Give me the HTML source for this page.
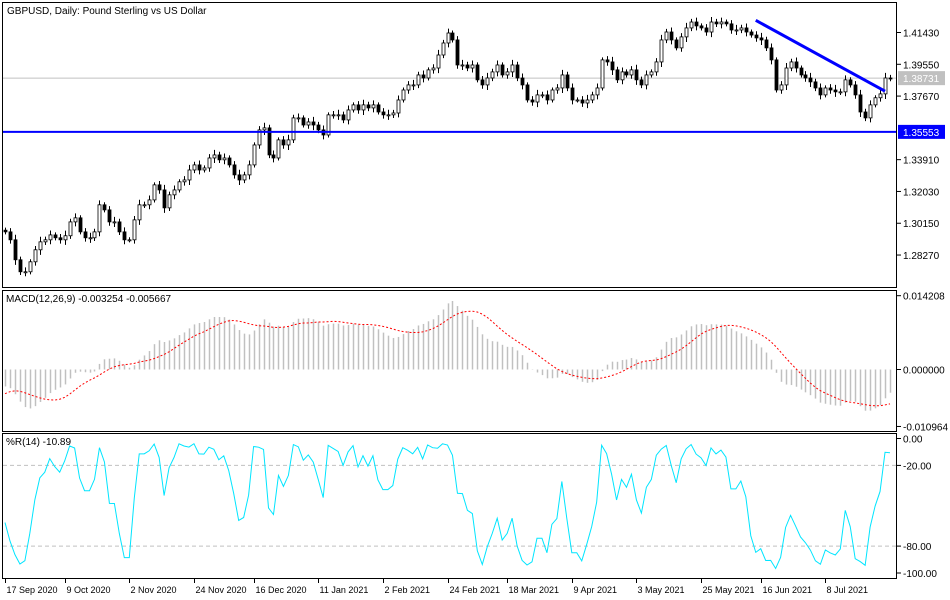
<!DOCTYPE html>
<html><head><meta charset="utf-8"><style>
html,body{margin:0;padding:0;background:#fff;}
svg{display:block;font-family:"Liberation Sans","DejaVu Sans",sans-serif;font-size:10px;}
.dl{font-size:9px;}
</style></head><body>
<svg id="chart" width="950" height="600" viewBox="0 0 950 600" xmlns="http://www.w3.org/2000/svg">
<rect x="0" y="0" width="950" height="600" fill="#fff"/>
<g id="price"></g>
<g id="macd"></g>
<g id="wpr"></g>
<g id="axes"></g>
</svg>
<script>
const closes=[1.2964,1.2917,1.2799,1.2728,1.2728,1.2787,1.2858,1.2905,1.2917,1.2946,1.2929,1.2917,1.2941,1.3023,1.3047,1.2964,1.2929,1.2929,1.2964,1.3124,1.3094,1.3023,1.3023,1.2964,1.2917,1.2917,1.3035,1.3124,1.3124,1.3153,1.3242,1.3212,1.3106,1.3183,1.3212,1.3260,1.3271,1.3330,1.3360,1.3330,1.3342,1.3401,1.3419,1.3390,1.3401,1.3360,1.3301,1.3271,1.3301,1.3360,1.3478,1.3567,1.3579,1.3419,1.3401,1.3508,1.3478,1.3508,1.3638,1.3638,1.3596,1.3614,1.3596,1.3567,1.3537,1.3656,1.3656,1.3656,1.3626,1.3685,1.3715,1.3685,1.3715,1.3697,1.3715,1.3673,1.3656,1.3656,1.3667,1.3744,1.3803,1.3833,1.3833,1.3892,1.3874,1.3922,1.3933,1.4010,1.4081,1.4140,1.4099,1.3951,1.3951,1.3933,1.3951,
1.3863,1.3833,1.3874,1.3910,1.3951,1.3892,1.3910,1.3951,1.3874,1.3833,1.3744,1.3732,1.3774,1.3774,1.3744,1.3803,1.3815,1.3892,1.3815,1.3744,1.3744,1.3726,1.3744,1.3774,1.3815,1.3981,1.3969,1.3922,1.3863,1.3910,1.3892,1.3922,1.3863,1.3833,1.3892,1.3910,1.3969,1.4099,1.4146,1.4099,1.4052,1.4117,1.4170,1.4205,1.4182,1.4170,1.4146,1.4205,1.4194,1.4205,1.4194,1.4158,1.4158,1.4170,1.4146,1.4128,1.4111,1.4099,1.4052,1.3981,1.3803,1.3833,1.3933,1.3969,1.3933,1.3892,1.3874,1.3851,1.3815,1.3774,1.3815,1.3803,1.3792,1.3792,1.3863,1.3833,1.3774,1.3673,1.3638,1.3715,1.3757,1.3780,1.3874,1.38731];
const preHistory=[1.3150,1.3200,1.3250,1.3300,1.3350,1.3300,1.3250,1.3150,1.3050,1.2950,1.2900,1.2850,1.2950,1.3000,1.2950,1.2900,1.2850,1.2900,1.2950,1.3000,1.3050,1.3020,1.2980,1.2990,1.3010,1.3000];
const priceTicks=[1.41430,1.39550,1.37670,1.33910,1.32030,1.30150,1.28270];
const supportLevel=1.35553;
const lastPrice=1.38731;
const trendLine=[[151,1.4215],[177,1.3796]];
const macdTicks=[0.014208,0,-0.010964];
const wprTicks=[0,-20,-80,-100];
const dateLabels=["17 Sep 2020","9 Oct 2020","2 Nov 2020","24 Nov 2020","16 Dec 2020","11 Jan 2021","2 Feb 2021","24 Feb 2021","18 Mar 2021","9 Apr 2021","3 May 2021","25 May 2021","16 Jun 2021","8 Jul 2021"];
const dateIdx=[0,12,25,38,50,63,76,89,101,114,127,140,152,165];

const NS="http://www.w3.org/2000/svg";
function mk(parent,tag,attrs,text){const e=document.createElementNS(NS,tag);for(const k in attrs)e.setAttribute(k,attrs[k]);if(text!==undefined)e.textContent=text;parent.appendChild(e);return e;}
const n=closes.length;
const X0=5,X1=890;
const xs=i=>X0+i*(X1-X0)/(n-1);
const yP=p=>32.5+(1.4143-p)*1691;
const yM=v=>369.5-v*5195;
const yW=v=>438.5-v*1.345;
const gP=document.getElementById('price'),gM=document.getElementById('macd'),gW=document.getElementById('wpr'),gA=document.getElementById('axes');

const opens=[],highs=[],lows=[];
for(let i=0;i<n;i++){const o=i?closes[i-1]:closes[0]+0.001;opens.push(o);const w=0.0015+0.0015*((i*7)%5)/4;highs.push(Math.max(o,closes[i])+w);lows.push(Math.min(o,closes[i])-w);}

let r=mk(gP,'rect',{x:2.5,y:2.5,width:894,height:285,fill:'none',stroke:'#000'});

r=mk(gM,'rect',{x:2.5,y:290.5,width:894,height:141,fill:'none',stroke:'#000'});

r=mk(gW,'rect',{x:2.5,y:433.5,width:894,height:145,fill:'none',stroke:'#000'});


let t=mk(gP,'text',{x:7,y:14,fill:'#000'},'GBPUSD, Daily:  Pound Sterling vs US Dollar');


let l=mk(gP,'line',{x1:3,x2:896,y1:yP(lastPrice),y2:yP(lastPrice),stroke:'#c0c0c0'});


for(let i=0;i<n;i++){
  const x=Math.round(xs(i))+0.5,o=opens[i],c=closes[i];
  const g=mk(gP,'g',{});
  
  mk(g,'line',{x1:x,x2:x,y1:yP(highs[i]),y2:yP(lows[i]),stroke:'#000'});
  const top=yP(Math.max(o,c)),bot=yP(Math.min(o,c));
  mk(g,'rect',{x:x-1.5,y:top,width:3,height:Math.max(1,bot-top),fill:c>=o?'#fff':'#000',stroke:'#000','stroke-width':0.8});
}
l=mk(gP,'line',{x1:3,x2:896,y1:yP(supportLevel),y2:yP(supportLevel),stroke:'#0000ff','stroke-width':2});

l=mk(gP,'line',{x1:xs(trendLine[0][0]),y1:yP(trendLine[0][1]),x2:xs(trendLine[1][0]),y2:yP(trendLine[1][1]),stroke:'#0000ff','stroke-width':3});


for(const p of priceTicks){const y=yP(p);mk(gA,'line',{x1:897,x2:901,y1:y,y2:y,stroke:'#000'});
  t=mk(gA,'text',{x:903,y:y+4,fill:'#000'},p.toFixed(5));}
let b=mk(gA,'rect',{x:898,y:yP(lastPrice)-7,width:47,height:14,fill:'#c0c0c0'});

t=mk(gA,'text',{x:903,y:yP(lastPrice)+4,fill:'#fff'},lastPrice.toFixed(5));
b=mk(gA,'rect',{x:898,y:yP(supportLevel)-7,width:47,height:14,fill:'#0000ff'});

t=mk(gA,'text',{x:903,y:yP(supportLevel)+4,fill:'#fff'},supportLevel.toFixed(5));

const all=preHistory.concat(closes);
function ema(a,p){const k=2/(p+1);let e=a[0];return a.map(v=>e=v*k+e*(1-k));}
const e12=ema(all,12),e26=ema(all,26);
const macdAll=all.map((v,i)=>e12[i]-e26[i]);
const sigAll=macdAll.map((v,i)=>{const s=macdAll.slice(Math.max(0,i-8),i+1);return s.reduce((a,b)=>a+b,0)/s.length;});
const off=preHistory.length;
const macd=macdAll.slice(off),signal=sigAll.slice(off);
for(let i=0;i<n;i++){const x=Math.round(xs(i))+0.5;
  l=mk(gM,'line',{x1:x,x2:x,y1:yM(0),y2:yM(macd[i]),stroke:'#c0c0c0','stroke-width':1.5});
  }
let pl=mk(gM,'polyline',{points:signal.map((v,i)=>xs(i)+','+yM(v)).join(' '),fill:'none',stroke:'#ff0000','stroke-dasharray':'2,2'});

t=mk(gM,'text',{x:6,y:302,fill:'#000'},'MACD(12,26,9) -0.003254 -0.005667');
for(const v of macdTicks){const y=yM(v);mk(gA,'line',{x1:897,x2:901,y1:y,y2:y,stroke:'#000'});
  t=mk(gA,'text',{x:903,y:y+4,fill:'#000'},v.toFixed(6));}

const wpr=[];
for(let i=0;i<n;i++){const s=Math.max(0,i-13);const hh=Math.max(...highs.slice(s,i+1)),ll=Math.min(...lows.slice(s,i+1));wpr.push(hh===ll?0:(hh-closes[i])/(hh-ll)*-100);}
for(const v of [-20,-80]){l=mk(gW,'line',{x1:3,x2:896,y1:yW(v),y2:yW(v),stroke:'#c0c0c0','stroke-dasharray':'4,3'});}
pl=mk(gW,'polyline',{points:wpr.map((v,i)=>xs(i)+','+yW(v)).join(' '),fill:'none',stroke:'#00e5ff'});

t=mk(gW,'text',{x:6,y:445,fill:'#000'},'%R(14) -10.89');
for(const v of wprTicks){const y=yW(v);mk(gA,'line',{x1:897,x2:901,y1:y,y2:y,stroke:'#000'});
  t=mk(gA,'text',{x:903,y:y+4,fill:'#000'},v.toFixed(2));}

dateLabels.forEach((d,k)=>{const x=Math.round(xs(dateIdx[k]))+0.5;mk(gA,'line',{x1:x,x2:x,y1:579,y2:583,stroke:'#000'});
  t=mk(gA,'text',{x:x+1,y:593,fill:'#000','class':'dl'},d);});
</script>
</body></html>
